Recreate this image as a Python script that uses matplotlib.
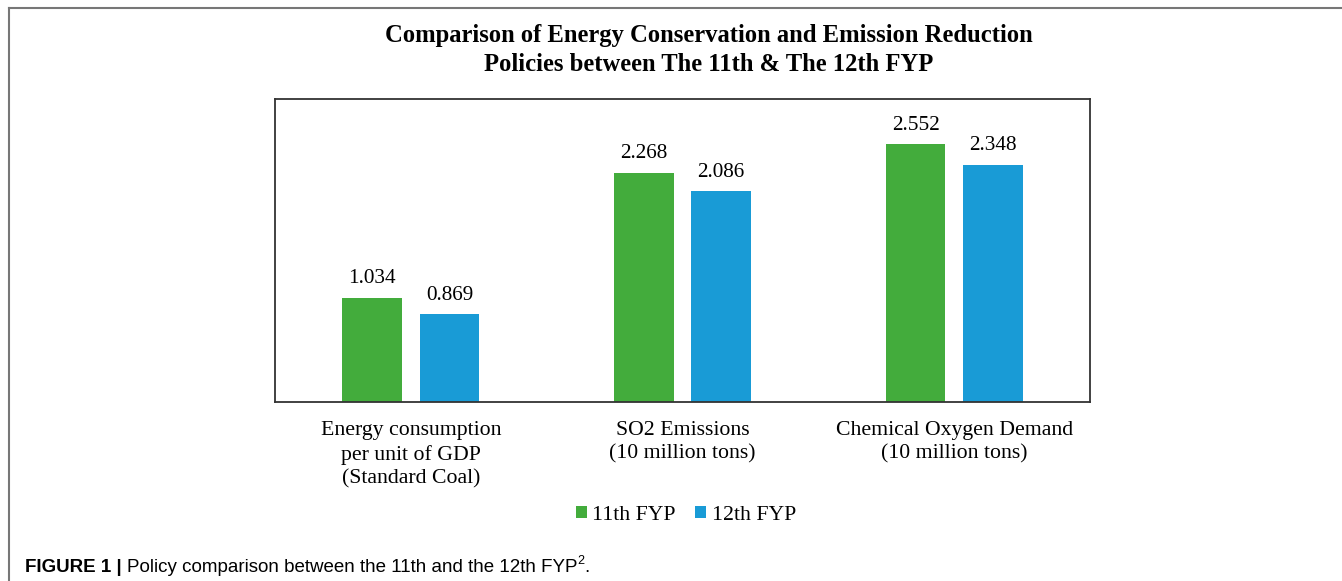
import matplotlib
matplotlib.use("Agg")
import matplotlib.pyplot as plt
from matplotlib.lines import Line2D
import numpy as np

categories = ["Energy consumption\nper unit of GDP\n(Standard Coal)",
              "SO2 Emissions\n(10 million tons)",
              "Chemical Oxygen Demand\n(10 million tons)"]
fyp11 = [1.034, 2.268, 2.552]
fyp12 = [0.869, 2.086, 2.348]
series_names = ["11th FYP", "12th FYP"]

green = "#43ac3c"
blue = "#199bd6"
serif = "Liberation Serif"
sans = "Liberation Sans"

W, H = 1342, 581
fig = plt.figure(figsize=(W / 100, H / 100), dpi=100)
ax = fig.add_axes([275 / W, 1 - 402 / H, 815 / W, 303 / H])

x = np.arange(len(categories))
bw = 0.22
off = 0.142
b1 = ax.bar(x - off, fyp11, bw, color=green, label=series_names[0])
b2 = ax.bar(x + off, fyp12, bw, color=blue, label=series_names[1])

for bars, vals in ((b1, fyp11), (b2, fyp12)):
    for r, v in zip(bars, vals):
        ax.annotate(f"{v:.3f}", (r.get_x() + r.get_width() / 2, v),
                    xytext=(0, 7), textcoords="offset points",
                    ha="center", va="bottom", fontsize=15.3, family=serif)

ax.set_xlim(-0.5, 2.5)
ax.set_ylim(0, 3)
ax.set_yticks([])
ax.set_xticks(x)
ax.set_xticklabels(categories, fontsize=15.7, family=serif, linespacing=1.3)
ax.tick_params(axis="x", length=0, pad=14)
for s in ax.spines.values():
    s.set_color("#333333")
    s.set_linewidth(1.3)

fig.text(709 / W, 1 - 50 / H,
         "Comparison of Energy Conservation and Emission Reduction\nPolicies between The 11th & The 12th FYP",
         ha="center", va="center", fontsize=17.7, fontweight="bold",
         family=serif, linespacing=1.32)

fig.legend(handles=[b1, b2], loc="center", bbox_to_anchor=(686 / W, 1 - 515 / H),
           ncol=2, frameon=False, prop={"family": serif, "size": 15.7},
           handlelength=0.5, handleheight=0.5, handletextpad=0.25, columnspacing=0.9)

# outer frame (top and left edges)
fig.add_artist(Line2D([9 / W, 1], [1 - 8 / H, 1 - 8 / H], color="#777777", lw=1.5,
                      transform=fig.transFigure))
fig.add_artist(Line2D([9 / W, 9 / W], [0, 1 - 8 / H], color="#777777", lw=1.5,
                      transform=fig.transFigure))

# caption
cap_y = 1 - 568 / H
t1 = fig.text(25 / W, cap_y, "FIGURE 1 | ", fontsize=13.5, fontweight="bold",
              family=sans, va="center")
fig.canvas.draw()
r = fig.canvas.get_renderer()
x1 = t1.get_window_extent(r).x1 / W
t2 = fig.text(x1, cap_y, "Policy comparison between the 11th and the 12th FYP",
              fontsize=13.5, family=sans, va="center")
x2 = t2.get_window_extent(r).x1 / W
t3 = fig.text(x2, cap_y + 7 / H, "2", fontsize=9, family=sans, va="center")
x3 = t3.get_window_extent(r).x1 / W
fig.text(x3, cap_y, ".", fontsize=13.5, family=sans, va="center")

fig.savefig("out.png", dpi=100)
